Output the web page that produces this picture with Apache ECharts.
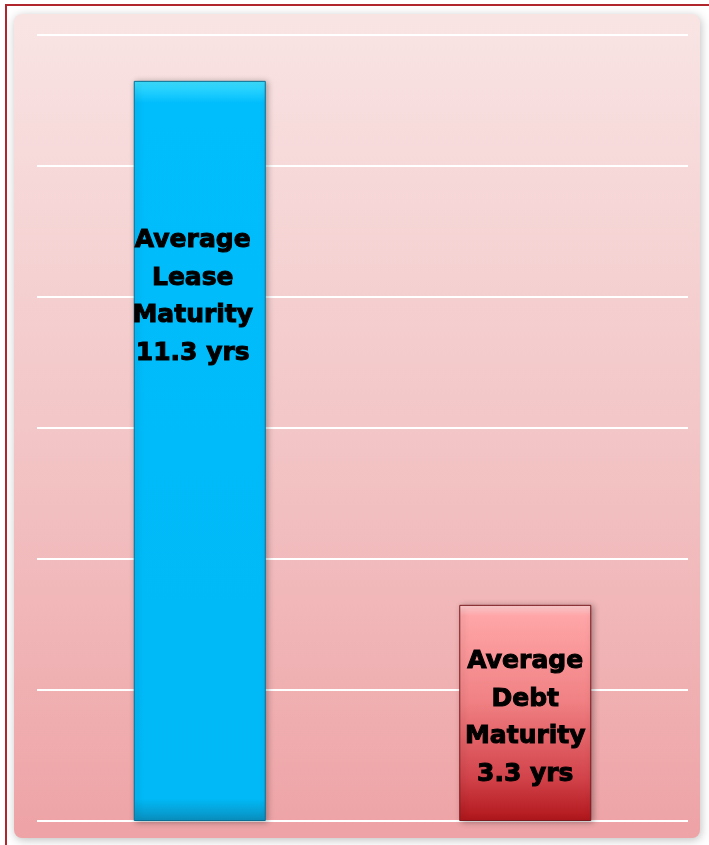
<!DOCTYPE html>
<html>
<head>
<meta charset="utf-8">
<script src="https://cdn.jsdelivr.net/npm/echarts@6/dist/echarts.min.js"></script>
<style>
  html, body { margin: 0; padding: 0; background: #ffffff; }
  #chart { width: 709px; height: 845px; }
</style>
</head>
<body>
<div id="chart"></div>
<script>
// data
const categories = ['Lease', 'Debt']
const values = [11.3, 3.3]
const barLabels = [
  'Average\nLease\nMaturity\n11.3 yrs',
  'Average\nDebt\nMaturity\n3.3 yrs'
]
const yTicks = [0, 2, 4, 6, 8, 10, 12]

const chart = echarts.init(document.getElementById('chart'))

const blueFill = new echarts.graphic.LinearGradient(0, 0, 0, 1, [
  { offset: 0, color: '#3fe0ff' },
  { offset: 0.03, color: '#00bdfc' },
  { offset: 0.97, color: '#00b9f6' },
  { offset: 1, color: '#0a8fbf' }
])
const redFill = new echarts.graphic.LinearGradient(0, 0, 0, 1, [
  { offset: 0, color: '#ffd0d2' },
  { offset: 0.05, color: '#ffa6a8' },
  { offset: 0.45, color: '#f08083' },
  { offset: 0.8, color: '#d2434a' },
  { offset: 1, color: '#b0161b' }
])

const option = {
  animation: false,
  graphic: [
    {
      type: 'rect',
      shape: { x: 6, y: 5, width: 720, height: 860 },
      style: { fill: '#ffffff', stroke: '#b0262c', lineWidth: 2 },
      z: -10
    },
    {
      type: 'rect',
      shape: { x: 14, y: 14, width: 686, height: 824, r: 8 },
      style: {
        fill: new echarts.graphic.LinearGradient(0, 0, 0, 1, [
          { offset: 0, color: '#f9e4e4' },
          { offset: 0.5, color: '#f3c6c7' },
          { offset: 1, color: '#eea3a6' }
        ]),
        shadowBlur: 10,
        shadowColor: 'rgba(0,0,0,0.25)',
        shadowOffsetX: 1,
        shadowOffsetY: 2
      },
      z: -9
    }
  ],
  grid: {
    left: 37,
    right: 21,
    top: 35,
    bottom: 24
  },
  xAxis: {
    type: 'category',
    data: categories,
    axisLine: { show: false },
    axisTick: { show: false },
    axisLabel: { show: false }
  },
  yAxis: {
    type: 'value',
    min: yTicks[0],
    max: yTicks[yTicks.length - 1],
    interval: 2,
    axisLine: { show: false },
    axisTick: { show: false },
    axisLabel: { show: false },
    splitLine: { lineStyle: { color: '#ffffff', width: 2 } }
  },
  series: [
    {
      type: 'bar',
      barWidth: 132,
      data: values.map((v, i) => ({
        value: v,
        itemStyle: {
          color: i === 0 ? blueFill : redFill,
          borderColor: i === 0 ? '#0a6f94' : '#7a1a1e',
          borderWidth: 1,
          shadowBlur: 6,
          shadowColor: 'rgba(0,0,0,0.3)',
          shadowOffsetX: 2,
          shadowOffsetY: 1
        },
        label: {
          show: true,
          formatter: barLabels[i],
          position: i === 0 ? 'insideTop' : 'inside',
          distance: i === 0 ? 141 : 5,
          offset: i === 0 ? [-7, 0] : [0, 5]
        }
      })),
      label: {
        color: '#000000',
        fontFamily: 'DejaVu Sans',
        fontWeight: 'bold',
        fontSize: 25,
        lineHeight: 37.5,
        align: 'center',
        textBorderColor: '#000000',
        textBorderWidth: 1
      }
    }
  ]
}

chart.setOption(option)
</script>
</body>
</html>
